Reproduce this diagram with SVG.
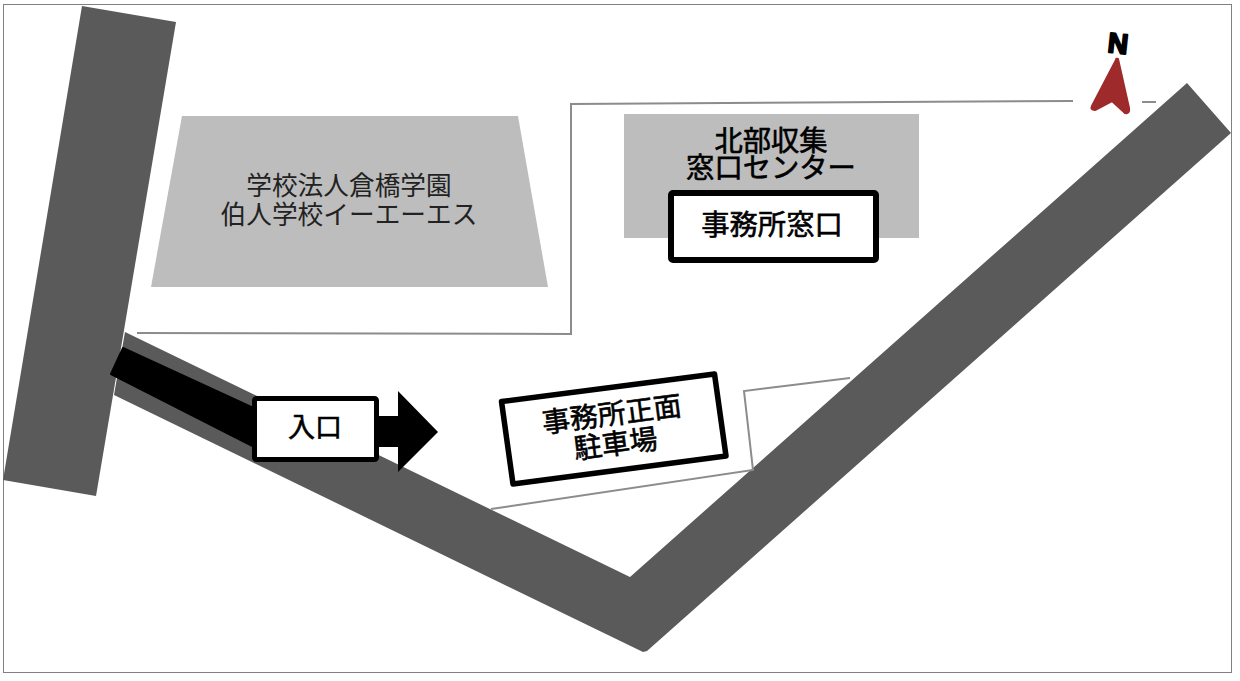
<svg xmlns="http://www.w3.org/2000/svg" width="1240" height="681" viewBox="0 0 1240 681">
<style>
.road{fill:#5a5a5a}
.bldg{fill:#bdbdbd}
.lot{fill:none;stroke:#8c8c8c;stroke-width:2}
.box{fill:#fff;stroke:#000;stroke-linejoin:round}
text{font-family:"Noto Sans CJK JP","Noto Sans",sans-serif;text-anchor:middle;fill:#000}
.b{stroke:#000;stroke-width:.6}
.t{fill:#222}
</style>
<rect x="0" y="0" width="1240" height="681" fill="#fff"/>
<rect x="3.5" y="4.5" width="1228" height="668" fill="#fff" stroke="#808080" stroke-width="1"/>
<g id="roads">
<polygon class="road" points="82,6 176,22 96,496 3,480"/>
<polygon class="road" points="125,332 630,577 1187,83 1231,133 647,651 643,652 114,395"/>
</g>
<g id="connectors">
<polyline class="lot" points="137,333 571,334 571,104 1073,101"/>
<line class="lot" x1="1142" y1="102" x2="1156" y2="102"/>
<polyline class="lot" points="850,378 744,391 753,470 491,509"/>
</g>
<g id="school">
<polygon class="bldg" points="182,116 518,116 548,287 151,287"/>
<text class="t" font-size="25.7"><tspan x="349" y="195">学校法人倉橋学園</tspan><tspan x="349" y="224">伯人学校イーエーエス</tspan></text>
</g>
<g id="center">
<rect class="bldg" x="624" y="114" width="295" height="124"/>
<text class="b" font-size="28.3"><tspan x="771" y="151">北部収集</tspan><tspan x="771" y="178">窓口センター</tspan></text>
</g>
<g id="window">
<rect class="box" x="671" y="193" width="205" height="67" rx="2" stroke-width="6"/>
<text class="b" x="772" y="235" font-size="28.3">事務所窓口</text>
</g>
<g id="entrance">
<polygon fill="#000" stroke="#000" stroke-width="2" stroke-linejoin="round" points="123,348 111,374 260,450 260,411"/>
<polygon fill="#000" points="370,416 398,416 398,391 438,432 398,472 398,447 370,447"/>
<rect class="box" x="254.5" y="398.5" width="122" height="61" rx="2" stroke-width="5"/>
<text class="b" x="315" y="437" font-size="27">入口</text>
</g>
<g id="parking">
<polygon class="box" points="501.5,401.5 714.5,374 726,456 513,484" stroke-width="5.5"/>
<text class="b" font-size="28" transform="translate(613 424) rotate(-7.3)"><tspan x="0" y="0">事務所正面</tspan><tspan x="0" y="30">駐車場</tspan></text>
</g>
<g id="north">
<rect x="1074" y="52" width="68" height="66" fill="#fff"/>
<path d="M1116,60 Q1116,58 1118,59 L1129,108 Q1130,114 1125,113 L1112,101 L1095,110 Q1090,110 1092,106 Z" fill="#9e2a2b" stroke="#9e2a2b" stroke-width="2" stroke-linejoin="round"/>
<text transform="translate(1117 53) rotate(6)" font-size="28" style="font-family:'Liberation Sans',sans-serif;font-weight:700;stroke:#000;stroke-width:2;stroke-linejoin:round">N</text>
</g>
</svg>
